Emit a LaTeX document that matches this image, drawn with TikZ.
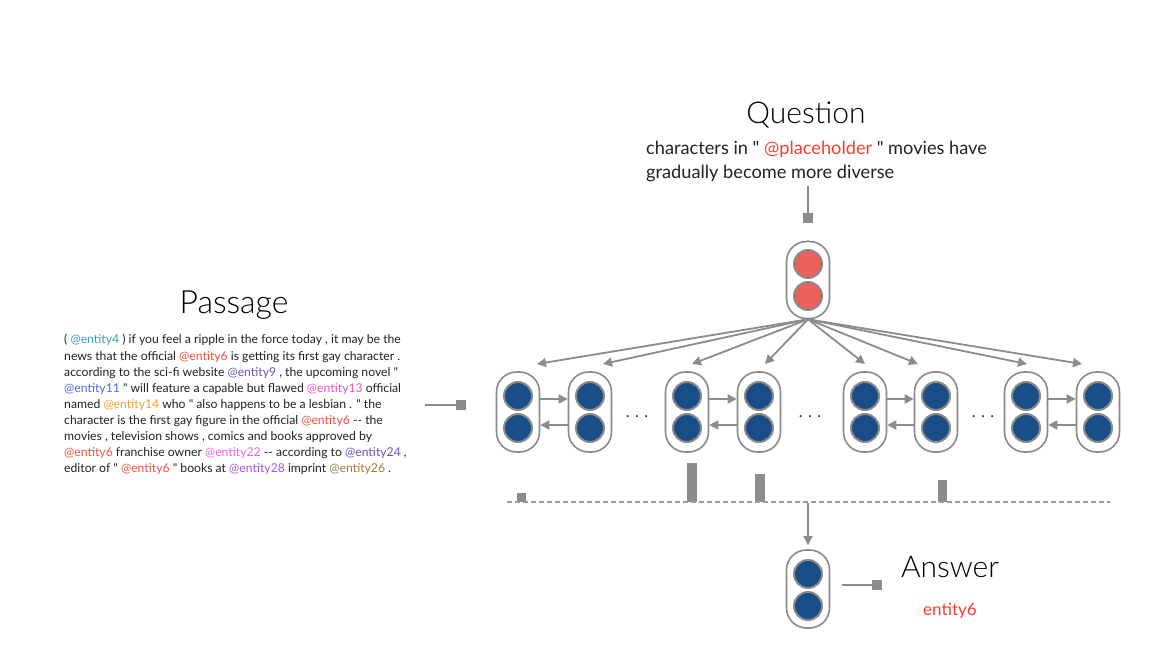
\documentclass[tikz,border=0pt]{standalone}
\usepackage{fontspec}
\setmainfont{Lato}[Ligatures=TeXOff]
\newfontfamily\lightfont{Lato Light}
\usetikzlibrary{arrows.meta,calc}
\definecolor{lgray}{HTML}{8C8C8C}
\definecolor{capgray}{HTML}{8A8A8A}
\definecolor{dashgray}{HTML}{9A9A9A}
\definecolor{dotblue}{HTML}{1A4E86}
\definecolor{dotred}{HTML}{EC5F5A}
\definecolor{txtred}{HTML}{FF3B2F}
\definecolor{txt}{HTML}{222222}
\definecolor{ellip}{HTML}{1F2A44}
\definecolor{eA}{HTML}{3AA0B5}
\definecolor{eB}{HTML}{F2503F}
\definecolor{eC}{HTML}{7453B3}
\definecolor{eD}{HTML}{4B6BE8}
\definecolor{eE}{HTML}{E858C8}
\definecolor{eF}{HTML}{F5A030}
\definecolor{eG}{HTML}{E466E8}
\definecolor{eH}{HTML}{6F4FB0}
\definecolor{eI}{HTML}{A455F0}
\definecolor{eJ}{HTML}{A47A3E}
\tikzset{
  capsule/.style={draw=capgray, line width=1.6pt, fill=white, rounded corners=20pt,
    minimum width=43pt, minimum height=80pt, inner sep=0pt},
  bdot/.style={circle, draw=capgray, line width=2pt, fill=dotblue, minimum size=28pt, inner sep=0pt},
  rdot/.style={circle, draw=capgray, line width=2pt, fill=dotred, minimum size=28pt, inner sep=0pt},
  conn/.style={draw=lgray, line width=1.8pt, -{Triangle[length=9pt,width=9pt]}},
  stem/.style={draw=lgray, line width=1.8pt},
  sqend/.style={rectangle, fill=lgray, minimum size=10pt, inner sep=0pt},
  title/.style={font=\lightfont\fontsize{30}{30}\selectfont, text=black, inner sep=0pt, anchor=base},
  ellipsis/.style={font=\fontsize{16}{16}\selectfont, text=ellip, inner sep=0pt, anchor=base},
  pline/.style={anchor=base west, inner sep=0pt, text=txt, font=\fontsize{12.2}{16}\selectfont},
  qline/.style={anchor=base west, inner sep=0pt, text=txt, font=\fontsize{18.2}{24}\selectfont},
}
\newcommand{\ent}[2]{\textcolor{#1}{@entity#2}}
\begin{document}
\begin{tikzpicture}[x=1pt,y=-1pt]
\useasboundingbox[fill=white] (0,0) rectangle (1162,668);

% Question
\node[title] (qtitle) at (806,124) {Question};
\node[qline] (qtext1) at (646,155) {characters in " \textcolor{txtred}{@placeholder} " movies have};
\node[qline] (qtext2) at (646,179) {gradually become more diverse};
\node[sqend] (qsq) at (808,218) {};
\coordinate (qs0) at (808,186);
\draw[stem] (qs0) -- (qsq);
\node[capsule, minimum height=77pt] (q) at (808,280) {};
\node[rdot] (qt) at (808,264) {};
\node[rdot] (qb) at (808,296) {};

% Passage
\node[title, font=\lightfont\fontsize{32}{32}\selectfont] (ptitle) at (234,313) {Passage};
\node[pline] (p1) at (64,344) {( \ent{eA}{4} ) if you feel a ripple in the force today , it may be the};
\node[pline] (p2) at (64,360) {news that the official \ent{eB}{6} is getting its first gay character .};
\node[pline] (p3) at (64,376) {according to the sci-fi website \ent{eC}{9} , the upcoming novel "};
\node[pline] (p4) at (64,392) {\ent{eD}{11} " will feature a capable but flawed \ent{eE}{13} official};
\node[pline] (p5) at (64,408) {named \ent{eF}{14} who " also happens to be a lesbian . " the};
\node[pline] (p6) at (64,424) {character is the first gay figure in the official \ent{eB}{6} -- the};
\node[pline] (p7) at (64,440) {movies , television shows , comics and books approved by};
\node[pline] (p8) at (64,456) {\ent{eB}{6} franchise owner \ent{eG}{22} -- according to \ent{eH}{24} ,};
\node[pline] (p9) at (64,472) {editor of " \ent{eB}{6} " books at \ent{eI}{28} imprint \ent{eJ}{26} .};
\node[sqend] (psq) at (461,405) {};
\coordinate (ps0) at (425,405);
\draw[stem] (ps0) -- (psq);

% passage encoder capsules
\foreach \i/\x in {1/518,2/590,3/687,4/759,5/865,6/936,7/1026,8/1098} {
  \node[capsule] (c\i) at (\x,412) {};
  \node[bdot] (c\i-t) at (\x,396) {};
  \node[bdot] (c\i-b) at (\x,428) {};
}
\foreach \a/\b in {1/2,3/4,5/6,7/8} {
  \draw[conn] ($(c\a-t -| c\a.east)+(0,3)$) -- ($(c\b-t -| c\b.west)+(0,3)$);
  \draw[conn] ($(c\b-b -| c\b.west)+(0,-3)$) -- ($(c\a-b -| c\a.east)+(0,-3)$);
}
\node[ellipsis] (d1) at (637,417) {. . .};
\node[ellipsis] (d2) at (810,417) {. . .};
\node[ellipsis] (d3) at (983,417) {. . .};

% attention arrows
\foreach \i/\x in {1/537,2/603,3/692,4/765,5/865,6/918,7/1027,8/1082} {
  \coordinate (t\i) at (\x,364);
  \draw[conn] (q.south) -- (t\i);
}

% attention histogram
\fill[lgray] (517,493) rectangle (526,502);
\fill[lgray] (687,463) rectangle (697,502);
\fill[lgray] (755,474) rectangle (765,502);
\fill[lgray] (938,480) rectangle (947,502);
\draw[dashgray, line width=1.8pt, dash pattern=on 5pt off 3pt] (507,502) -- (1110,502);

% answer
\coordinate (hist) at (808,503);
\node[capsule, minimum height=78pt] (a) at (808,589) {};
\node[bdot] (at) at (808,574) {};
\node[bdot] (ab) at (808,606) {};
\draw[conn] (hist) -- ([yshift=4pt]a.north);
\node[sqend] (asq) at (877,585) {};
\coordinate (as0) at (842,585);
\draw[stem] (as0) -- (asq);
\node[title] (atitle) at (950,577) {Answer};
\node[anchor=base, inner sep=0pt, text=txtred, font=\fontsize{17}{17}\selectfont] (ans) at (950,615) {entity6};
\end{tikzpicture}
\end{document}
